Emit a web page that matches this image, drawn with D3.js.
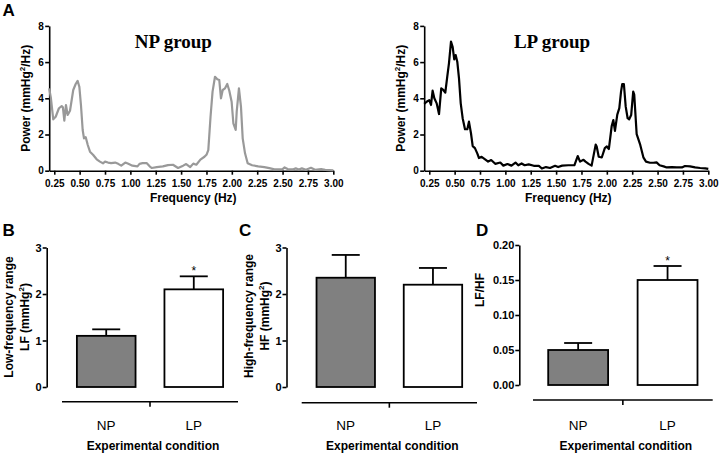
<!DOCTYPE html>
<html><head><meta charset="utf-8">
<script src="https://cdn.jsdelivr.net/npm/d3@7"></script>
<style>
body{margin:0;background:#fff}
svg{display:block;font-family:"Liberation Sans",Arial,Helvetica,sans-serif}
</style>
</head><body>
<svg id="c" width="720" height="458"></svg>
<script>
// ---------- DATA ----------
const freqTicks = [0.25,0.5,0.75,1.0,1.25,1.5,1.75,2.0,2.25,2.5,2.75,3.0];
const powerTicks = [0,2,4,6,8];

const npFreq = [0.2,0.217,0.24,0.264,0.296,0.323,0.335,0.349,0.365,0.382,0.405,0.437,0.461,0.48,0.497,0.513,0.53,0.543,0.56,0.58,0.602,0.634,0.668,0.70,0.73,0.75,0.78,0.81,0.85,0.88,0.91,0.95,0.98,1.02,1.07,1.09,1.12,1.16,1.19,1.21,1.26,1.32,1.37,1.42,1.47,1.52,1.55,1.59,1.62,1.65,1.69,1.73,1.752,1.768,1.79,1.81,1.834,1.857,1.876,1.893,1.91,1.933,1.955,1.975,1.998,2.015,2.038,2.048,2.07,2.09,2.107,2.13,2.156,2.2,2.26,2.32,2.37,2.42,2.5,2.52,2.55,2.6,2.63,2.66,2.69,2.73,2.78,2.82,2.88,2.92,3.0];
const npPower = [4.55,4.0,2.84,2.98,3.45,3.57,3.5,2.76,3.63,3.08,3.31,4.46,4.79,4.96,4.64,3.63,2.25,1.79,1.85,1.42,1.05,0.87,0.63,0.5,0.41,0.5,0.45,0.42,0.45,0.38,0.28,0.45,0.38,0.28,0.24,0.38,0.42,0.42,0.24,0.15,0.2,0.24,0.31,0.33,0.15,0.28,0.37,0.2,0.39,0.33,0.61,0.77,0.9,1.14,2.98,4.37,5.19,5.05,5.01,4.0,4.46,4.55,4.79,4.42,3.81,2.62,2.25,3.26,4.55,3.54,1.79,0.96,0.41,0.3,0.24,0.2,0.14,0.07,0.09,0.18,0.09,0.07,0.13,0.07,0.13,0.05,0.16,0.05,0.09,0.05,0.02];

const lpFreq = [0.2,0.224,0.25,0.267,0.283,0.3,0.323,0.346,0.368,0.388,0.408,0.427,0.444,0.464,0.48,0.496,0.51,0.526,0.543,0.56,0.579,0.602,0.625,0.641,0.661,0.678,0.70,0.723,0.74,0.766,0.8,0.83,0.86,0.9,0.95,0.98,1.02,1.06,1.1,1.127,1.16,1.19,1.23,1.28,1.33,1.36,1.40,1.44,1.49,1.52,1.56,1.62,1.68,1.713,1.736,1.77,1.79,1.82,1.85,1.89,1.90,1.92,1.95,1.98,2.0,2.02,2.048,2.064,2.08,2.103,2.123,2.14,2.152,2.168,2.186,2.205,2.22,2.24,2.26,2.27,2.294,2.327,2.36,2.386,2.425,2.458,2.49,2.52,2.56,2.59,2.64,2.69,2.74,2.77,2.82,2.87,2.92,2.97,3.0];
const lpPower = [3.69,3.81,3.9,3.63,4.42,4.0,3.72,3.13,4.55,4.46,4.31,5.19,5.93,7.13,6.85,6.15,6.39,6.02,5.1,3.72,2.9,2.29,2.29,2.71,2.07,1.36,1.25,0.96,0.7,0.77,0.63,0.5,0.59,0.38,0.45,0.28,0.37,0.28,0.45,0.3,0.4,0.3,0.35,0.27,0.27,0.12,0.2,0.15,0.27,0.2,0.28,0.3,0.3,0.81,0.5,0.6,0.5,0.38,0.28,1.44,1.34,0.77,0.73,1.25,1.34,1.2,2.47,2.8,2.2,3.1,3.46,4.37,4.79,4.79,3.54,2.9,2.84,3.08,4.37,4.2,2.02,1.47,0.74,0.5,0.44,0.44,0.46,0.3,0.24,0.18,0.2,0.18,0.18,0.26,0.24,0.18,0.15,0.13,0.1];

const categories = ["NP","LP"];
const lfMean = [1.1, 2.1];
const lfSem = [0.14, 0.28];
const hfMean = [2.35, 2.2];
const hfSem = [0.49, 0.36];
const ratioMean = [0.05, 0.15];
const ratioSem = [0.01, 0.02];
const lfhfTicks = [0,1,2,3];
const ratioTicks = [0,0.05,0.10,0.15,0.20];
const significant = [false, true];

// ---------- DRAWING ----------
const svg = d3.select("#c");
const FONT = '"Liberation Sans",Arial,Helvetica,sans-serif';

function styleAxis(g, fs){
  g.attr("font-family",null).attr("font-size",null);
  g.selectAll(".domain").attr("stroke","#000").attr("stroke-width",1.6);
  g.selectAll(".tick line").attr("stroke","#000").attr("stroke-width",1.6);
  g.selectAll(".tick text").style("font-family",FONT).attr("font-weight","bold")
    .attr("font-size",fs).attr("fill","#000");
}

function letter(t,x,y){
  svg.append("text").attr("x",x).attr("y",y).attr("font-size",17).attr("font-weight","bold")
    .attr("fill","#000").text(t);
}

function linePanel(o){
  const x = d3.scaleLinear().domain([0.2,3.0]).range([o.x0,o.x1]);
  const y = d3.scaleLinear().domain([0,8]).range([170.7,25.9]);
  const gx = svg.append("g").attr("transform",`translate(0,${y(0)})`)
    .call(d3.axisBottom(x).tickValues(freqTicks).tickFormat(d3.format(".2f"))
      .tickSize(4).tickSizeOuter(0).tickPadding(5));
  styleAxis(gx,10);
  const gy = svg.append("g").attr("transform",`translate(${o.x0},0)`)
    .call(d3.axisLeft(y).tickValues(powerTicks).tickSize(4).tickSizeOuter(0).tickPadding(1.5));
  styleAxis(gy,10);
  const pts = o.freq.map((f,i)=>[f,o.power[i]]);
  svg.append("path").datum(pts)
    .attr("d",d3.line().x(d=>x(d[0])).y(d=>y(d[1])))
    .attr("fill","none").attr("stroke",o.color).attr("stroke-width",2.2)
    .attr("stroke-linejoin","round");
  svg.append("text").attr("x",o.titleX).attr("y",47.7).attr("text-anchor","middle")
    .style("font-family",'"Liberation Serif","Times New Roman",Times,serif').attr("font-weight","bold")
    .attr("font-size",19).attr("fill","#000").text(o.title);
  svg.append("text").attr("x",(o.x0+o.x1)/2+2).attr("y",202).attr("text-anchor","middle")
    .attr("font-size",12).attr("font-weight","bold").text("Frequency (Hz)");
  const yl = svg.append("text").attr("transform",`translate(${o.ylabX},98.3) rotate(-90)`)
    .attr("text-anchor","middle").attr("font-size",12).attr("font-weight","bold");
  yl.append("tspan").text("Power (mmHg");
  yl.append("tspan").attr("font-size",8).attr("dy",-5).text("2");
  yl.append("tspan").attr("dy",5).text("/Hz)");
}

linePanel({x0:49.2,x1:333.3,freq:npFreq,power:npPower,color:"#999999",title:"NP group",titleX:173.3,ylabX:30.3});
linePanel({x0:424.2,x1:708.3,freq:lpFreq,power:lpPower,color:"#000000",title:"LP group",titleX:552,ylabX:405.3});
letter("A",2.5,16);

function barPanel(o){
  const x = d3.scaleBand().domain(categories).range([o.l0,o.l1]).paddingInner(0.33).paddingOuter(0.17);
  const y = d3.scaleLinear().domain(o.domain).range([o.yb,o.yt]);
  const gy = svg.append("g").attr("transform",`translate(${o.ax},0)`)
    .call(d3.axisLeft(y).tickValues(o.ticks).tickFormat(o.fmt).tickSize(4).tickSizeOuter(0).tickPadding(1));
  styleAxis(gy,11);
  const fills = ["#808080","#ffffff"];
  categories.forEach((c,i)=>{
    const cx = x(c)+x.bandwidth()/2;
    const top = y(o.mean[i]+o.sem[i]);
    svg.append("line").attr("x1",cx).attr("x2",cx).attr("y1",y(o.mean[i])).attr("y2",top)
      .attr("stroke","#000").attr("stroke-width",1.8);
    svg.append("line").attr("x1",cx-14).attr("x2",cx+14).attr("y1",top).attr("y2",top)
      .attr("stroke","#000").attr("stroke-width",1.8);
    svg.append("rect").attr("x",x(c)).attr("width",x.bandwidth())
      .attr("y",y(o.mean[i])).attr("height",y(0)-y(o.mean[i]))
      .attr("fill",fills[i]).attr("stroke","#000").attr("stroke-width",1.8);
    if(o.star && significant[i]){
      svg.append("text").attr("x",cx).attr("y",top-1.5).attr("text-anchor","middle")
        .attr("font-size",12).text("*");
    }
    svg.append("text").attr("x",cx).attr("y",430).attr("text-anchor","middle")
      .attr("font-size",13.5).attr("fill","#000").text(c);
  });
  svg.append("line").attr("x1",o.l0).attr("x2",o.l1).attr("y1",o.ly).attr("y2",o.ly)
    .attr("stroke","#000").attr("stroke-width",1.6);
  const mid=(o.l0+o.l1)/2;
  svg.append("line").attr("x1",mid).attr("x2",mid).attr("y1",o.ly).attr("y2",o.ly+5)
    .attr("stroke","#000").attr("stroke-width",1.6);
  svg.append("text").attr("x",mid+3).attr("y",449.5).attr("text-anchor","middle")
    .attr("font-size",12).attr("font-weight","bold").text("Experimental condition");
  const yl = svg.append("text").attr("transform",`translate(${o.ylx},${o.ylc}) rotate(-90)`)
    .attr("text-anchor","middle").attr("font-size",12).attr("font-weight","bold");
  o.ylab(yl);
}

function twoLine(l1,l2,dx){
  return function(t){
    t.append("tspan").attr("x",0).attr("y",0).text(l1);
    const s = t.append("tspan").attr("x",0).attr("y",dx);
    s.text(l2+" (mmHg");
    t.append("tspan").attr("font-size",8).attr("dy",-5).text("2");
    t.append("tspan").attr("dy",5).text(")");
  };
}

barPanel({l0:62,l1:238,ax:46.7,yb:387,yt:247.5,domain:[0,3],ticks:lfhfTicks,fmt:d3.format("d"),
  mean:lfMean,sem:lfSem,star:true,ly:401.7,ylx:12.6,ylc:317,ylab:twoLine("Low-frequency range","LF",16.7)});
barPanel({l0:301.7,l1:477,ax:286.5,yb:387,yt:247.5,domain:[0,3],ticks:lfhfTicks,fmt:d3.format("d"),
  mean:hfMean,sem:hfSem,star:false,ly:402.7,ylx:252.6,ylc:316,ylab:twoLine("High-frequency range","HF",16.7)});
barPanel({l0:533,l1:712.7,ax:519.3,yb:385,yt:245,domain:[0,0.2],ticks:ratioTicks,fmt:d3.format(".2f"),
  mean:ratioMean,sem:ratioSem,star:true,ly:400,ylx:484,ylc:290,ylab:t=>t.text("LF/HF")});

letter("B",2.5,236);
letter("C",239,236);
letter("D",476,236);
</script>
</body></html>
